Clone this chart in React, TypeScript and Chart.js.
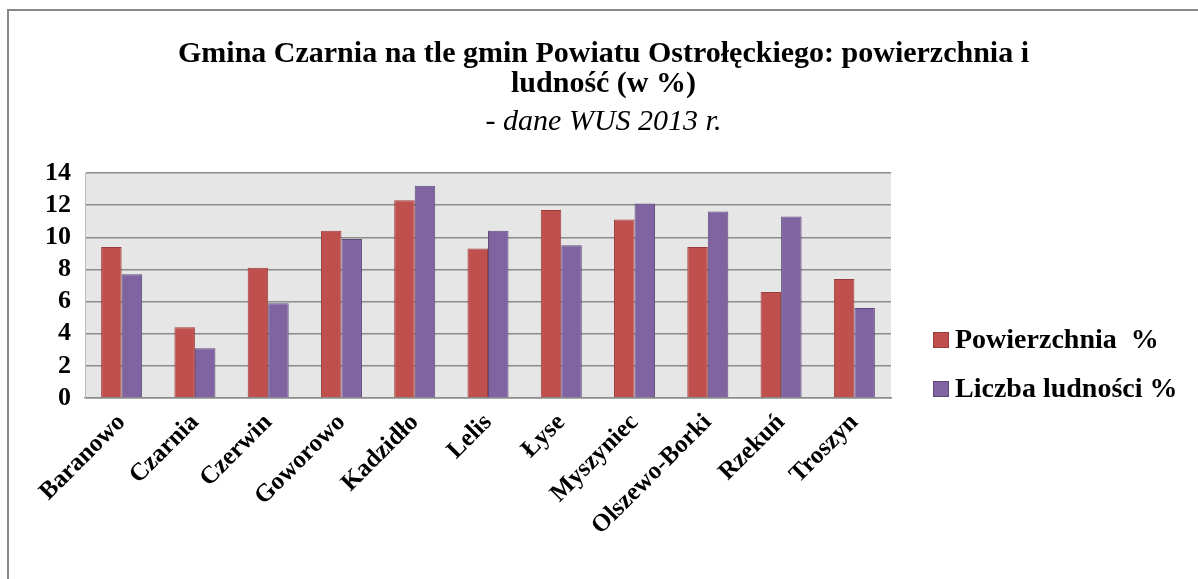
import React, { useEffect, useRef } from "react";
import { Chart, registerables } from "chart.js";

Chart.register(...registerables);

const categories = [
  "Baranowo", "Czarnia", "Czerwin", "Goworowo", "Kadzidło", "Lelis",
  "Łyse", "Myszyniec", "Olszewo-Borki", "Rzekuń", "Troszyn",
];
const powierzchnia = [9.4, 4.4, 8.1, 10.4, 12.3, 9.3, 11.7, 11.1, 9.4, 6.6, 7.4];
const ludnosc = [7.7, 3.1, 5.9, 9.9, 13.2, 10.4, 9.5, 12.1, 11.6, 11.3, 5.6];
const seriesLabels = ["Powierzchnia  %", "Liczba ludności %"];
const titleLines = ["Gmina Czarnia na tle gmin Powiatu Ostrołęckiego: powierzchnia i", "ludność (w %)"];
const subtitleText = "- dane WUS 2013 r.";

const FONT = "'Liberation Serif', 'Times New Roman', serif";

const plotBg = {
  id: "plotBg",
  beforeDraw(chart: any) {
    const { ctx, chartArea } = chart;
    ctx.save();
    ctx.fillStyle = "#e6e6e6";
    ctx.fillRect(chartArea.left, chartArea.top, chartArea.right - chartArea.left, chartArea.bottom - chartArea.top);
    ctx.restore();
  },
};

const customLegend = {
  id: "customLegend",
  afterDraw(chart: any) {
    const { ctx, chartArea } = chart;
    const ds = chart.data.datasets;
    const x0 = chartArea.right + 42;
    const rows = [329, 378];
    ctx.save();
    ds.forEach((d: any, i: number) => {
      const cy = rows[i];
      ctx.fillStyle = d.backgroundColor;
      ctx.fillRect(x0, cy - 8, 16, 16);
      ctx.strokeStyle = d.borderColor;
      ctx.lineWidth = 1;
      ctx.strokeRect(x0 + 0.5, cy - 7.5, 15, 15);
      ctx.fillStyle = "#000";
      ctx.font = `bold 28px ${FONT}`;
      ctx.textBaseline = "middle";
      ctx.textAlign = "left";
      ctx.fillText(d.label, x0 + 22, cy + 1);
    });
    ctx.restore();
  },
};

export default function App() {
  const ref = useRef<HTMLCanvasElement>(null);
  useEffect(() => {
    if (!ref.current) return;
    const chart = new Chart(ref.current, {
      type: "bar",
      data: {
        labels: categories,
        datasets: [
          {
            label: seriesLabels[0],
            data: powierzchnia,
            backgroundColor: "#c0504d",
            borderColor: "#9b3d3a",
            borderWidth: 1,
            categoryPercentage: 0.56,
            barPercentage: 1,
          },
          {
            label: seriesLabels[1],
            data: ludnosc,
            backgroundColor: "#8064a2",
            borderColor: "#5f4a7a",
            borderWidth: 1,
            categoryPercentage: 0.56,
            barPercentage: 1,
          },
        ],
      },
      options: {
        animation: false,
        responsive: false,
        layout: { padding: 0 },
        plugins: {
          legend: { display: false },
          tooltip: { enabled: false },
          title: {
            display: true,
            text: titleLines,
            color: "#000",
            font: { family: FONT, size: 30, weight: "bold", lineHeight: 1 },
            padding: { top: 28, bottom: 8 },
          },
          subtitle: {
            display: true,
            text: subtitleText,
            color: "#000",
            font: { family: FONT, size: 30, style: "italic", weight: "normal", lineHeight: 1 },
            padding: { top: 0, bottom: 36 },
          },
        },
        scales: {
          x: {
            grid: { display: false, drawTicks: false },
            border: { display: true, color: "#8c8c8c", width: 1.5 },
            ticks: {
              color: "#000",
              font: { family: FONT, size: 25, weight: "bold" },
              minRotation: 45,
              maxRotation: 45,
              autoSkip: false,
              padding: 10,
            },
            afterFit(scale: any) {
              scale.height = 181;
            },
          },
          y: {
            min: 0,
            max: 14,
            ticks: {
              stepSize: 2,
              autoSkip: false,
              color: "#000",
              font: { family: FONT, size: 26, weight: "bold", lineHeight: 1 },
              padding: 14,
            },
            grid: { color: "#8c8c8c", lineWidth: 1.5, drawTicks: false },
            border: { display: true, color: "#b8b8b8", width: 1 },
            afterFit(scale: any) {
              scale.width = 76;
            },
          },
          legendSpace: {
            type: "linear",
            position: "right",
            display: true,
            grid: { display: false, drawTicks: false },
            border: { display: false },
            ticks: { display: false },
            afterFit(scale: any) {
              scale.width = 307;
            },
          },
        },
      },
      plugins: [plotBg, customLegend],
    });
    return () => chart.destroy();
  }, []);
  return (
    <div
      style={{
        position: "fixed",
        left: 7,
        top: 9,
        width: 1191,
        height: 570,
        borderTop: "2px solid #888",
        borderLeft: "2px solid #888",
        background: "#fff",
      }}
    >
      <canvas ref={ref} width={1189} height={568} style={{ display: "block" }} />
    </div>
  );
}
